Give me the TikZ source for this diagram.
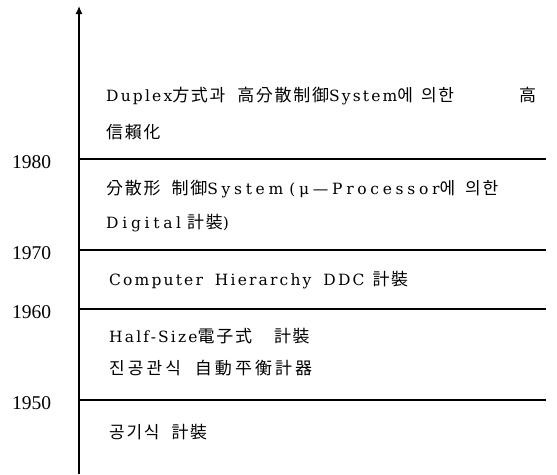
\documentclass[tikz,border=0pt]{standalone}
\usepackage{fontspec}
\setmainfont{Liberation Serif}
\newfontfamily\latinsp[LetterSpace=14]{DejaVu Serif}
\newfontfamily\latinwide[LetterSpace=24]{DejaVu Serif}
\newfontfamily\krfont[LetterSpace=10]{Noto Sans CJK KR}
\newfontfamily\krwide[LetterSpace=18]{Noto Sans CJK KR}
\usetikzlibrary{arrows.meta}
\newcommand\lat{\fontsize{15.5}{15.5}\latinsp}
\newcommand\latw[1]{{\fontsize{15.5}{15.5}\latinwide #1}}
\newcommand\kr[1]{{\fontsize{17}{17}\krfont #1}}
\newcommand\krw[1]{{\fontsize{17}{17}\krwide #1}}
\newcommand\gap[1]{\hspace*{#1pt}}
\begin{document}
\begin{tikzpicture}[x=1pt,y=-1pt,
  yearlbl/.style={anchor=base west,inner sep=0pt,font=\fontsize{19.5}{19.5}\selectfont},
  entry/.style={anchor=base west,inner sep=0pt,font=\lat},
  period/.style={line width=1.1pt},
  axisline/.style={line width=1.2pt,-{Latex[length=8pt,width=7pt]}}]
\useasboundingbox (0,0) rectangle (557,474);
\coordinate (axb) at (79,474);
\coordinate (axt) at (79,6);
\draw[axisline] (axb) -- (axt);
% period lines
\foreach \n/\yy in {l80/159,l70/250,l60/309,l50/400}{
  \coordinate (\n a) at (79,\yy);
  \coordinate (\n b) at (546,\yy);
  \draw[period] (\n a) -- (\n b);
}
% years
\node[yearlbl] (y80) at (12,168) {1980};
\node[yearlbl] (y70) at (12,259) {1970};
\node[yearlbl] (y60) at (12,318) {1960};
\node[yearlbl] (y50) at (12,409) {1950};
% 1980-
\node[entry] (t1a) at (106,101) {Duplex\kr{方式과}\gap{12}\kr{高分散制御}System\kr{에}\gap{8}\kr{의한}};
\node[entry] (t1c) at (519,101) {\kr{高}};
\node[entry] (t1b) at (106,138) {\kr{信賴化}};
% 1970-1980
\node[entry] (t2a) at (106,194) {\kr{分散形}\gap{11}\kr{制御}\latw{System}\gap{6}\latw{(μ—Processor}\kr{에}\gap{10}\kr{의한}};
\node[entry] (t2b) at (106,228) {\latw{Digital}\gap{6}\kr{計裝})};
% 1960-1970
\node[entry] (t3) at (109,285) {Computer\gap{12}Hierarchy\gap{12}DDC\gap{8}\kr{計裝}};
% 1950-1960
\node[entry] (t4a) at (109,342) {Half-Size\kr{電子式}\gap{22}\kr{計裝}};
\node[entry] (t4b) at (109,374) {\krw{진공관식}\gap{14}\krw{自動平衡計器}};
% -1950
\node[entry] (t5) at (109,438) {\kr{공기식}\gap{12}\kr{計裝}};
\end{tikzpicture}
\end{document}
